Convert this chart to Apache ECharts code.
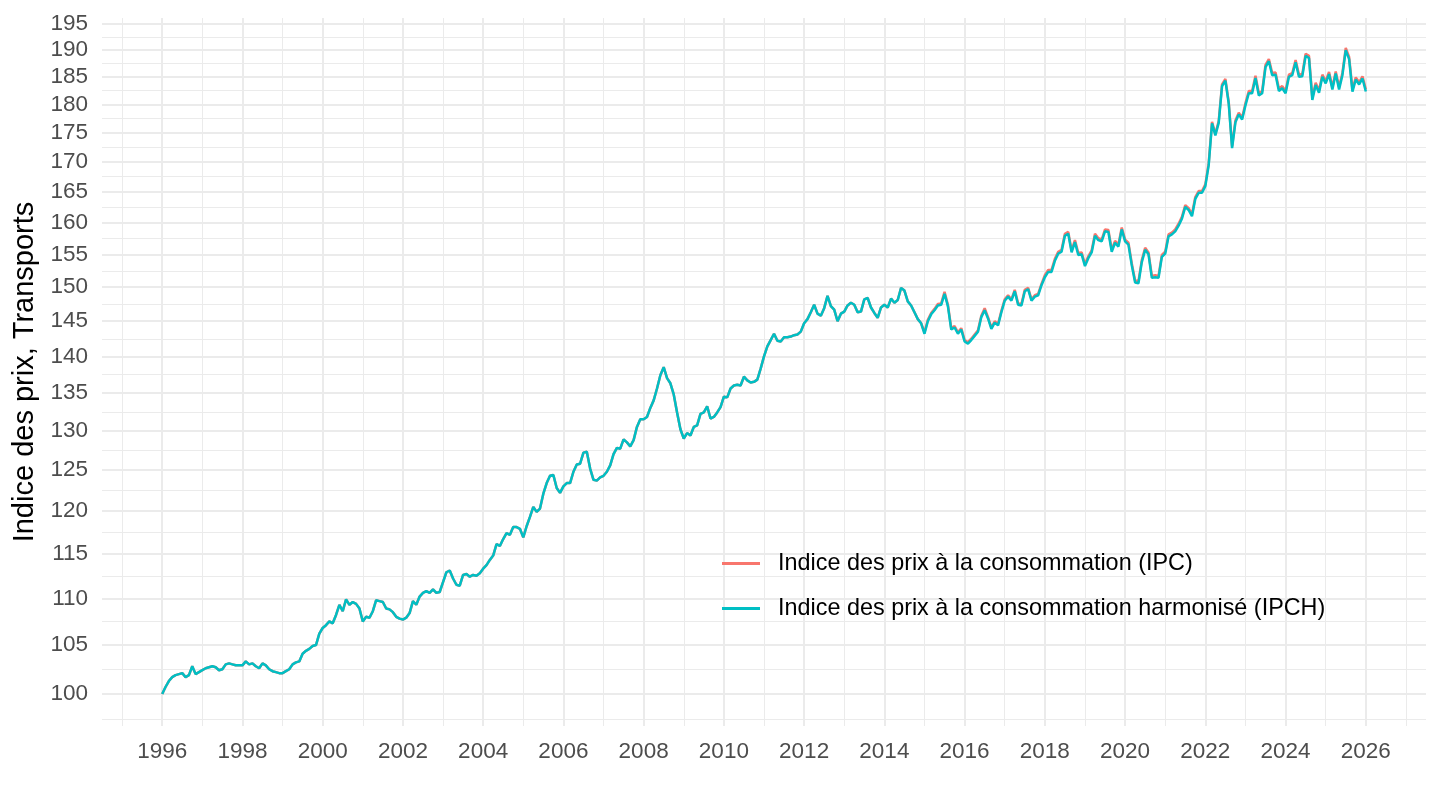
<!DOCTYPE html>
<html><head><meta charset="utf-8">
<script src="https://cdn.jsdelivr.net/npm/echarts@6/dist/echarts.min.js"></script>
<style>html,body{margin:0;padding:0;background:#fff}#c{width:1440px;height:810px}</style>
</head><body><div id="c"></div>
<script>
const startYear = 1996;
const seriesNames = ['Indice des prix à la consommation (IPC)', 'Indice des prix à la consommation harmonisé (IPCH)'];
const seriesColors = ['#F8766D', '#00BFC4'];
const yTicks = [100,105,110,115,120,125,130,135,140,145,150,155,160,165,170,175,180,185,190,195];
const xTicks = [1996,1998,2000,2002,2004,2006,2008,2010,2012,2014,2016,2018,2020,2022,2024,2026];

// monthly values, Jan 1996 .. Jan 2026
const ipc = [
100.0,100.7,101.3,101.7,101.9,102.0,102.1,101.7,101.9,102.8,102.0,102.2,
102.4,102.6,102.7,102.8,102.7,102.4,102.5,103.0,103.1,103.0,102.9,102.9,
102.9,103.3,103.0,103.1,102.8,102.6,103.1,102.9,102.5,102.3,102.2,102.1,
102.1,102.3,102.5,103.0,103.2,103.3,104.1,104.4,104.6,104.9,105.0,106.2,
106.8,107.1,107.5,107.3,108.2,109.3,108.6,109.9,109.3,109.6,109.4,108.9,
107.5,108.0,107.9,108.6,109.8,109.7,109.6,108.9,108.8,108.5,108.0,107.8,
107.7,107.9,108.4,109.7,109.3,110.2,110.6,110.8,110.6,111.0,110.6,110.7,
111.8,112.9,113.1,112.2,111.5,111.4,112.6,112.7,112.4,112.6,112.5,112.8,
113.3,113.7,114.3,114.8,116.1,115.9,116.7,117.4,117.2,118.1,118.1,117.9,
116.9,118.2,119.3,120.5,119.9,120.3,122.1,123.4,124.3,124.4,122.8,122.2,
123.0,123.4,123.4,124.8,125.7,125.8,127.2,127.3,125.2,123.8,123.7,124.1,
124.3,124.8,125.6,127.0,127.8,127.7,128.9,128.5,128.0,128.8,130.5,131.5,
131.5,131.8,133.0,134.0,135.6,137.4,138.5,137.0,136.3,134.8,132.4,130.2,
129.0,129.7,129.4,130.5,130.7,132.2,132.4,133.2,131.6,131.8,132.4,133.1,
134.5,134.4,135.6,136.0,136.1,136.0,137.2,136.7,136.4,136.5,136.8,138.3,
140.0,141.4,142.3,143.2,142.2,142.1,142.7,142.7,142.8,143.0,143.1,143.5,
144.7,145.3,146.3,147.4,146.1,145.8,146.9,148.7,147.2,146.7,145.0,146.1,
146.4,147.3,147.7,147.4,146.3,146.4,148.2,148.4,147.0,146.2,145.5,147.0,
147.4,147.0,148.3,147.7,148.1,149.9,149.5,147.9,147.3,146.3,145.3,144.7,
143.4,145.2,146.2,146.8,147.5,147.6,149.3,147.4,144.0,144.3,143.4,144.0,
142.3,142.0,142.5,143.1,143.7,145.8,146.9,145.6,144.1,145.0,144.6,146.5,
148.2,148.8,148.2,149.6,147.6,147.5,149.6,149.9,148.2,148.8,149.0,150.5,
151.8,152.6,152.6,154.3,155.4,155.7,158.2,158.5,155.6,157.2,155.2,155.3,
153.5,154.7,155.6,158.2,157.5,157.3,158.9,158.8,155.7,157.1,156.5,159.2,
157.3,156.8,153.6,151.0,150.9,154.1,156.0,155.3,151.7,151.8,151.7,154.9,
155.4,158.1,158.4,158.9,159.8,160.9,162.8,162.3,161.3,164.1,165.1,165.1,
166.2,169.7,176.9,174.8,177.0,183.6,184.6,180.4,172.6,177.1,178.5,177.6,
180.2,182.4,182.4,185.2,182.0,182.4,187.2,188.3,185.7,185.8,182.8,183.3,
182.4,185.4,185.7,188.1,185.4,185.5,189.3,188.9,181.2,183.9,182.5,185.4,
184.2,185.9,183.1,186.0,183.1,185.7,190.4,188.7,182.7,184.9,184.0,185.1,
182.7
];
const ipch = [
100.0,100.7,101.3,101.7,101.9,102.0,102.1,101.7,101.9,102.8,102.0,102.2,
102.4,102.6,102.7,102.8,102.7,102.4,102.5,103.0,103.1,103.0,102.9,102.9,
102.9,103.3,103.0,103.1,102.8,102.6,103.1,102.9,102.5,102.3,102.2,102.1,
102.1,102.3,102.5,103.0,103.2,103.3,104.1,104.4,104.6,104.9,105.0,106.2,
106.8,107.1,107.5,107.3,108.2,109.3,108.6,109.9,109.3,109.6,109.4,108.9,
107.5,108.0,107.9,108.6,109.8,109.7,109.6,108.9,108.8,108.5,108.0,107.8,
107.7,107.9,108.4,109.7,109.3,110.2,110.6,110.8,110.6,111.0,110.6,110.7,
111.8,112.9,113.1,112.2,111.5,111.4,112.6,112.7,112.4,112.6,112.5,112.8,
113.3,113.7,114.3,114.8,116.1,115.9,116.7,117.4,117.2,118.1,118.1,117.9,
116.9,118.2,119.3,120.5,119.9,120.3,122.1,123.4,124.3,124.4,122.8,122.2,
123.0,123.4,123.4,124.8,125.7,125.8,127.2,127.3,125.2,123.8,123.7,124.1,
124.3,124.8,125.6,127.0,127.8,127.7,128.9,128.5,128.0,128.8,130.5,131.5,
131.5,131.8,133.0,134.0,135.6,137.4,138.5,137.0,136.3,134.8,132.4,130.2,
129.0,129.7,129.4,130.5,130.7,132.2,132.4,133.2,131.6,131.8,132.4,133.1,
134.5,134.4,135.6,136.0,136.1,136.0,137.2,136.7,136.4,136.5,136.8,138.3,
140.0,141.4,142.3,143.2,142.2,142.1,142.7,142.7,142.8,143.0,143.1,143.5,
144.7,145.3,146.3,147.4,146.1,145.8,146.9,148.7,147.2,146.7,145.0,146.1,
146.4,147.3,147.7,147.4,146.3,146.4,148.2,148.4,147.0,146.2,145.5,147.0,
147.4,147.0,148.3,147.7,148.1,149.9,149.5,147.9,147.3,146.3,145.3,144.7,
143.2,145.0,146.0,146.6,147.3,147.4,149.0,147.2,143.8,144.1,143.2,143.8,
142.1,141.8,142.3,142.9,143.5,145.6,146.6,145.4,143.9,144.8,144.4,146.3,
148.0,148.6,148.0,149.4,147.4,147.3,149.4,149.7,148.0,148.6,148.8,150.3,
151.5,152.3,152.3,154.0,155.1,155.4,157.9,158.2,155.3,156.9,154.9,155.0,
153.2,154.4,155.3,157.9,157.2,157.0,158.6,158.5,155.4,156.8,156.2,158.9,
157.0,156.5,153.3,150.7,150.6,153.8,155.7,155.0,151.4,151.5,151.4,154.6,
155.1,157.8,158.1,158.6,159.5,160.6,162.5,162.0,161.0,163.8,164.8,164.8,
165.9,169.4,176.6,174.5,176.7,183.3,184.3,180.1,172.3,176.8,178.2,177.3,
179.8,182.0,182.0,184.8,181.6,182.0,186.8,187.9,185.3,185.4,182.4,182.9,
182.0,185.0,185.3,187.7,185.0,185.1,188.9,188.5,180.8,183.5,182.1,185.0,
183.8,185.5,182.7,185.6,182.7,185.3,190.0,188.3,182.3,184.5,183.6,184.7,
182.3
];

const L = Math.log;
const toPts = arr => arr.map((v, i) => [startYear + i / 12, L(v)]);
const yMajor = yTicks.map(L);
const yMinor = [(L(95) + L(100)) / 2];
for (let i = 0; i < yTicks.length - 1; i++) yMinor.push((L(yTicks[i]) + L(yTicks[i + 1])) / 2);
const xMinor = xTicks.map(y => y - 1).concat([xTicks[xTicks.length - 1] + 1]);

const font = '"Liberation Sans", Arial, Helvetica, sans-serif';
const grid = { left: 102, right: 14, top: 18, bottom: 84 };
const xMin = 1994.5, xMax = 2027.5;
const yMin = L(96.86), yMax = L(196.17);
const gridCol = '#ebebeb';

const chart = echarts.init(document.getElementById('c'), null, { renderer: 'canvas' });
chart.setOption({
  animation: false,
  backgroundColor: '#ffffff',
  grid: grid,
  legend: {
    orient: 'vertical', left: 717, top: 547,
    itemWidth: 38, itemHeight: 3, itemGap: 22, icon: 'rect',
    textStyle: { fontSize: 23.4, color: '#000', fontFamily: font, padding: [0, 0, 0, 13] },
    data: seriesNames
  },
  xAxis: [
    { type: 'value', min: xMin, max: xMax,
      axisLine: { show: false }, axisTick: { show: false, customValues: xTicks },
      axisLabel: { customValues: xTicks, fontSize: 22.5, color: '#4d4d4d', margin: 14, fontFamily: font,
        formatter: v => String(Math.round(v)) },
      splitLine: { show: true, lineStyle: { color: gridCol, width: 2 } } },
    { type: 'value', min: xMin, max: xMax,
      axisLine: { show: false }, axisTick: { show: false, customValues: xMinor },
      axisLabel: { show: false },
      splitLine: { show: true, lineStyle: { color: gridCol, width: 1 } } }
  ],
  yAxis: [
    { type: 'value', min: yMin, max: yMax,
      name: 'Indice des prix, Transports', nameLocation: 'middle', nameGap: 54,
      nameTextStyle: { fontSize: 29, color: '#000', fontFamily: font },
      axisLine: { show: false }, axisTick: { show: false, customValues: yMajor },
      axisLabel: { customValues: yMajor, fontSize: 22.5, color: '#4d4d4d', margin: 14, fontFamily: font,
        formatter: v => String(Math.round(Math.exp(v))) },
      splitLine: { show: true, lineStyle: { color: gridCol, width: 2 } } },
    { type: 'value', min: yMin, max: yMax,
      axisLine: { show: false }, axisTick: { show: false, customValues: yMinor },
      axisLabel: { show: false },
      splitLine: { show: true, lineStyle: { color: gridCol, width: 1 } } }
  ],
  series: [
    { name: seriesNames[0], type: 'line', xAxisIndex: 0, yAxisIndex: 0, data: toPts(ipc),
      showSymbol: false, symbol: 'none', lineStyle: { color: seriesColors[0], width: 2.5 },
      itemStyle: { color: seriesColors[0] } },
    { name: seriesNames[1], type: 'line', xAxisIndex: 0, yAxisIndex: 0, data: toPts(ipch),
      showSymbol: false, symbol: 'none', lineStyle: { color: seriesColors[1], width: 2.5 },
      itemStyle: { color: seriesColors[1] } }
  ]
});
</script>
</body></html>
